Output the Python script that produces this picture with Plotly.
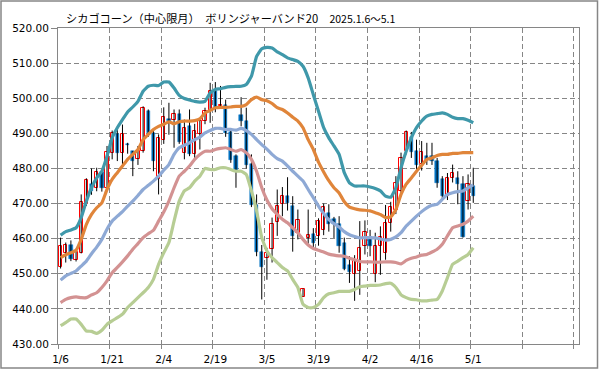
import plotly.graph_objects as go

# ---------------- data ----------------
dates = ["1/6","1/7","1/8","1/9","1/10","1/13","1/14","1/15","1/16","1/17",
         "1/21","1/22","1/23","1/24","1/27","1/28","1/29","1/30","1/31","2/3",
         "2/4","2/5","2/6","2/7","2/10","2/11","2/12","2/13","2/14","2/18",
         "2/19","2/20","2/21","2/24","2/25","2/26","2/27","2/28","3/3","3/4",
         "3/5","3/6","3/7","3/10","3/11","3/12","3/13","3/14","3/17","3/18",
         "3/19","3/20","3/21","3/24","3/25","3/26","3/27","3/28","3/31","4/1",
         "4/2","4/3","4/4","4/7","4/8","4/9","4/10","4/11","4/14","4/15",
         "4/16","4/17","4/21","4/22","4/23","4/24","4/25","4/28","4/29","4/30",
         "5/1"]

open_ = [451.8,456.0,458.1,454.0,456.0,469.8,475.6,474.5,479.0,474.3,
         484.5,489.7,484.5,487.1,485.0,482.6,485.1,496.5,490.1,476.9,
         488.2,494.1,493.9,495.6,484.5,492.0,484.0,489.9,493.5,496.5,
         502.0,497.8,498.2,490.4,483.5,495.2,493.6,481.3,469.6,456.2,
         454.5,457.0,464.8,469.8,472.1,469.3,461.7,443.5,460.1,461.2,
         460.9,462.4,467.4,465.5,464.3,458.9,452.5,450.0,450.7,458.0,
         460.5,450.0,457.8,455.9,464.4,468.3,473.6,484.9,489.0,485.1,
         481.3,483.5,483.5,482.1,476.9,472.1,477.2,477.2,475.6,470.7,
         475.0]
high = [460.3,458.9,459.5,456.7,472.6,477.2,480.0,480.2,479.3,486.4,
        490.8,491.5,492.5,487.3,485.0,486.4,497.7,496.8,491.1,489.7,
        497.4,498.7,496.8,496.8,493.9,496.8,492.7,494.0,497.3,504.4,
        504.6,503.5,499.6,490.8,484.0,500.3,497.3,484.0,472.6,458.2,
        457.4,466.0,474.0,474.7,477.5,472.1,468.3,445.8,468.3,463.0,
        465.8,470.0,469.8,466.2,466.4,460.3,455.0,455.3,465.0,465.2,
        462.5,461.7,463.5,469.6,470.5,477.8,484.5,490.8,490.4,488.2,
        487.8,487.3,487.3,483.0,477.8,478.7,481.1,479.2,477.8,478.3,
        480.2]
low = [451.5,453.2,453.6,453.5,455.8,469.3,472.5,473.5,473.4,473.5,
       482.6,482.1,481.1,484.2,477.8,481.0,484.5,489.0,479.2,472.6,
       487.0,489.6,485.9,487.0,482.6,483.5,482.8,485.4,492.6,493.0,
       496.0,497.5,489.0,481.6,474.5,492.0,480.0,469.0,455.0,442.7,
       448.3,453.2,460.8,466.4,468.0,456.3,459.8,443.5,458.0,457.0,
       458.0,461.0,462.0,460.2,456.0,451.0,447.4,442.3,444.0,455.5,
       455.0,447.6,449.7,454.0,462.0,467.0,472.0,484.0,483.0,479.1,
       479.4,481.0,481.0,474.5,471.0,471.0,476.0,469.8,460.3,468.3,
       470.2]
close = [457.9,458.1,454.1,456.3,470.5,476.6,473.6,479.1,474.3,484.7,
         490.1,484.5,489.9,486.6,482.1,485.0,497.1,490.1,482.1,488.7,
         494.7,493.5,495.4,487.6,491.6,484.2,490.6,493.5,496.5,502.2,
         497.3,498.2,490.1,482.3,479.7,493.5,481.1,469.6,456.2,451.8,
         455.9,464.2,469.3,472.1,470.2,460.8,465.3,445.8,461.0,458.9,
         465.0,469.0,464.1,464.3,457.9,451.3,450.5,453.7,457.4,461.9,
         457.8,457.8,460.6,464.4,469.1,475.9,483.0,490.4,484.7,481.1,
         484.6,482.3,482.1,475.9,472.1,477.3,478.7,475.6,460.5,475.6,
         472.1]

band_p2 = [461.0,462.0,462.5,463.1,466.0,470.7,474.5,477.3,479.2,483.5,
           488.7,491.6,493.9,496.1,497.5,499.1,502.0,503.4,503.7,503.6,
           504.6,504.6,502.9,500.8,499.9,499.5,499.1,498.9,499.1,501.5,
           502.5,502.7,503.1,503.3,503.4,503.4,503.9,506.3,511.9,514.1,
           514.5,514.3,513.2,512.4,511.5,511.0,510.5,509.1,505.8,501.0,
           496.3,491.6,488.7,486.4,484.0,478.8,475.9,475.0,475.0,475.0,
           474.7,474.3,473.6,472.1,471.8,474.5,480.2,484.9,488.7,491.6,
           493.5,494.9,495.4,495.6,495.8,495.4,494.6,494.2,494.2,493.7,
           493.0]
band_p1 = [454.6,455.4,456.0,456.7,459.8,464.1,466.9,468.8,470.2,474.0,
           476.9,478.8,480.7,482.6,484.0,485.4,488.2,489.7,491.1,492.0,
           492.6,493.3,492.7,493.3,493.5,493.5,493.6,494.1,495.8,496.5,
           497.3,497.4,497.4,497.5,497.7,497.7,498.2,499.6,500.3,499.6,
           499.3,498.5,497.3,496.8,495.8,494.6,493.5,491.6,488.2,485.4,
           481.8,479.0,476.5,474.5,473.0,470.5,469.0,468.5,468.2,468.1,
           467.9,467.4,466.9,466.0,466.2,468.3,472.6,475.5,477.3,479.2,
           480.9,482.6,483.0,483.7,484.0,484.0,484.3,484.3,484.5,484.5,
           484.5]
band_mid = [448.2,449.4,450.1,450.8,452.2,453.6,455.7,457.6,459.8,462.7,
            465.0,466.4,467.7,469.3,470.7,472.3,474.0,475.2,476.4,477.8,
            479.5,481.1,484.0,485.9,486.6,487.3,488.2,488.9,490.1,490.8,
            491.4,491.4,491.1,491.1,490.9,491.4,490.8,489.7,488.2,486.8,
            485.5,484.0,482.8,482.1,480.7,479.2,477.8,476.4,474.0,471.7,
            469.3,467.2,465.4,464.3,463.3,462.0,461.1,460.6,460.2,460.3,
            460.3,460.2,459.9,459.6,459.8,460.5,461.7,463.6,465.0,466.4,
            467.7,468.8,469.5,469.8,471.2,472.6,473.1,473.4,473.6,474.5,
            475.3]
band_m1 = [441.8,442.7,443.2,443.4,443.2,443.2,444.0,444.6,446.1,448.0,
           450.3,451.8,453.4,455.1,457.0,458.6,460.3,461.4,462.4,465.0,
           467.6,470.7,474.5,477.8,479.2,480.7,482.6,484.0,484.9,484.9,
           485.4,485.7,485.9,485.4,484.9,485.4,484.5,482.6,479.2,474.5,
           471.0,468.5,466.9,465.5,464.5,463.1,461.7,459.8,458.2,457.2,
           456.7,456.2,455.6,455.3,455.1,455.0,454.4,454.0,453.5,453.4,
           453.4,453.3,453.3,453.4,453.4,453.2,452.8,453.8,454.4,454.8,
           455.3,455.5,456.2,457.0,458.4,460.8,463.1,463.6,464.1,465.0,
           466.4]
band_m2 = [435.2,436.1,437.1,437.1,435.6,433.7,433.6,433.0,433.9,435.6,
           436.6,437.5,438.5,440.4,441.8,443.2,444.6,446.1,448.4,452.7,
           456.0,458.9,465.0,470.7,473.6,474.5,476.4,477.8,480.0,479.7,
           479.7,480.2,480.2,479.7,479.2,479.2,478.3,473.6,467.9,460.3,
           456.5,454.6,453.2,451.8,450.8,448.4,446.1,441.3,440.4,440.4,
           441.3,443.2,444.3,444.6,445.0,445.0,445.0,445.5,446.3,446.5,
           446.7,446.7,446.8,447.2,447.3,446.1,444.0,443.2,442.7,442.6,
           442.3,442.3,442.5,442.7,445.1,448.9,452.7,453.6,454.6,455.5,
           457.4]

tick_labels = ["1/6","1/21","2/4","2/19","3/5","3/19","4/2","4/16","5/1"]
title_main = "シカゴコーン（中心限月）　ボリンジャーバンド20　"
title_period = "2025.1.6～5.1"

# ---------------- layout constants ----------------
W, H = 599, 370
ML, MR, MT, MB = 58, 20, 28, 26
n_slots = 101          # category slots shown on the x axis
grid_every = 10
GRID = "#868686"

n = len(dates)
xs = list(range(n))

fig = go.Figure()

# wicks (black)
wx, wy = [], []
for i in xs:
    wx += [i, i, None]
    wy += [low[i], high[i], None]
fig.add_trace(go.Scatter(x=wx, y=wy, mode="lines",
                         line=dict(color="black", width=1), hoverinfo="skip",
                         showlegend=False))

# bodies
up_x, up_b, up_h, dn_x, dn_b, dn_h = [], [], [], [], [], []
for i in xs:
    o, c = open_[i], close[i]
    if c >= o:
        up_x.append(i); up_b.append(o); up_h.append(max(c - o, 0.15))
    else:
        dn_x.append(i); dn_b.append(c); dn_h.append(o - c)
fig.add_trace(go.Bar(x=up_x, y=up_h, base=up_b, width=0.64,
                     marker=dict(color="white", line=dict(color="#FF0000", width=1)),
                     showlegend=False))
fig.add_trace(go.Bar(x=dn_x, y=dn_h, base=dn_b, width=0.64,
                     marker=dict(color="#0070C0", line=dict(color="#0070C0", width=0.5)),
                     showlegend=False))

# bands
for vals, col in [(band_m2, "#B7CD94"), (band_m1, "#D39292"), (band_mid, "#8EA9D5"),
                  (band_p1, "#E0853A"), (band_p2, "#3F98AA")]:
    fig.add_trace(go.Scatter(x=xs, y=vals, mode="lines",
                             line=dict(color=col, width=3.2, shape="spline", smoothing=0.4),
                             showlegend=False, hoverinfo="skip"))

tickvals = [dates.index(t) for t in tick_labels]
minor_vals = [k - 0.5 for k in range(0, n_slots, grid_every)]

fig.update_layout(
    width=W, height=H,
    margin=dict(l=ML, r=MR, t=MT, b=MB, autoexpand=False),
    paper_bgcolor="white", plot_bgcolor="white",
    barmode="overlay", bargap=0,
    showlegend=False,
    font=dict(family="DejaVu Sans", size=10, color="#000000"),
)
fig.update_xaxes(
    range=[-0.5, n_slots - 0.5],
    tickmode="array", tickvals=tickvals, ticktext=tick_labels,
    ticks="", showgrid=False, zeroline=False, automargin=False,
    showline=True, linecolor=GRID, linewidth=1, mirror=True,
    tickfont=dict(family="DejaVu Sans", size=10.5, color="black"),
    ticklabelstandoff=5,
    minor=dict(tickmode="array", tickvals=minor_vals, ticks="outside", ticklen=4,
               tickcolor=GRID, showgrid=True, gridcolor=GRID, griddash="5px,3px",
               gridwidth=1),
)
fig.update_yaxes(
    range=[430, 520], dtick=10, tick0=430, tickformat=".2f",
    ticks="outside", ticklen=6, tickcolor=GRID, automargin=False,
    showgrid=True, gridcolor=GRID, griddash="5px,3px", gridwidth=1,
    zeroline=False,
    showline=True, linecolor=GRID, linewidth=1, mirror=True,
    tickfont=dict(family="DejaVu Sans", size=10.5, color="black"),
)

pw = W - ML - MR
ph = H - MT - MB
def px2x(px):
    return (px - ML) / pw
def py2y(py):
    return (H - MB - py) / ph

# outer frame
fig.add_shape(type="rect", xref="paper", yref="paper",
              x0=px2x(1), x1=px2x(597.5), y0=py2y(368), y1=py2y(1),
              line=dict(color=GRID, width=1.5), layer="below")

fig.add_annotation(text=title_main + "<span style='font-size:10.5px'>" + title_period + "</span>",
                   xref="paper", yref="paper",
                   x=px2x(64), y=py2y(18), xanchor="left", yanchor="middle",
                   showarrow=False,
                   font=dict(family="Noto Sans CJK JP", size=11.2, color="black"))

fig.write_html("out.html", config={"displayModeBar": False},
               post_script="document.body.style.margin='0px';document.body.style.overflow='hidden';")
